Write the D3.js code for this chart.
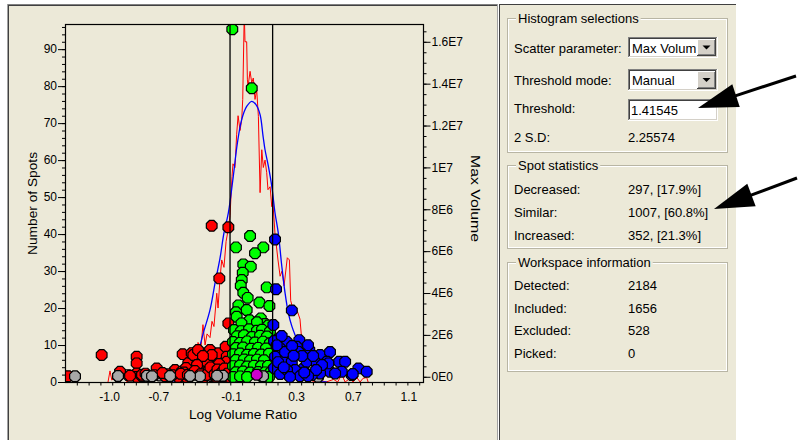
<!DOCTYPE html>
<html><head><meta charset="utf-8">
<script src="https://cdn.jsdelivr.net/npm/d3@7/dist/d3.min.js"></script>
<style>
html,body{margin:0;padding:0;background:#fff;}
svg{display:block;font-family:"Liberation Sans",Arial,sans-serif;}
</style></head><body>
<svg id="c" width="811" height="440"></svg>
<script>
// ---------------- DATA ----------------
const xTickAt = [-1.008, -0.660, -0.144, 0.317, 0.719, 1.113];
const xTickLabels = ["-1.0", "-0.7", "-0.1", "0.3", "0.7", "1.1"];
const countTicks = [0, 10, 20, 30, 40, 50, 60, 70, 80, 90];
const volumeTicks = [0, 2, 4, 6, 8, 10, 12, 14, 16]; // millions
const volumeTickLabels = ["0E0", "2E6", "4E6", "6E6", "8E6", "1E7", "1.2E7", "1.4E7", "1.6E7"];
const thresholds = [-0.151, 0.151];

// histogram of log volume ratio [x, number of spots]
const histogram = [[-1.016,0],[-1.002,3],[-0.989,0.5],[-0.960,1.5],[-0.931,0],[-0.903,2],[-0.882,0],[-0.846,1],[-0.818,0],[-0.790,2.5],[-0.761,0],[-0.733,1.5],[-0.704,0],[-0.676,4.5],[-0.662,0.5],[-0.634,1],[-0.605,0],[-0.577,2],[-0.555,4.7],[-0.534,0.5],[-0.506,2],[-0.477,1],[-0.449,5.6],[-0.428,3],[-0.399,6],[-0.378,10.7],[-0.357,9.3],[-0.343,15.5],[-0.328,10],[-0.314,13],[-0.293,12],[-0.279,16.4],[-0.265,15],[-0.245,24],[-0.236,20],[-0.222,28],[-0.210,33],[-0.194,31],[-0.179,38],[-0.165,41],[-0.151,45],[-0.137,55.6],[-0.130,59],[-0.116,58],[-0.104,67],[-0.094,72],[-0.080,68],[-0.068,71],[-0.061,76.4],[-0.050,100],[-0.045,92],[-0.033,92],[-0.028,81.7],[-0.023,80],[-0.009,84],[0.003,80.9],[0.014,82.2],[0.026,76.4],[0.038,79],[0.050,71.8],[0.062,51.2],[0.074,62.8],[0.085,58],[0.097,60],[0.109,56.6],[0.118,52],[0.133,52.8],[0.145,47.4],[0.152,49],[0.168,40],[0.189,33],[0.204,28.6],[0.218,30],[0.232,26],[0.255,33.6],[0.270,33],[0.279,22],[0.296,19.6],[0.322,19.6],[0.345,17],[0.357,11.5],[0.369,7],[0.393,4.3],[0.416,2.9],[0.438,0],[0.487,0.5],[0.530,0],[0.583,0.7],[0.612,0],[0.641,2],[0.665,0],[0.700,1],[0.721,0],[0.748,1.2],[0.771,0],[0.792,1],[0.818,1.2],[0.828,0]];

// fitted normal curve [x, number of spots]
const fitCurve = [[-0.553,0.2],[-0.458,1.6],[-0.387,7],[-0.340,13.3],[-0.293,19.5],[-0.257,26.8],[-0.222,33.5],[-0.194,40.3],[-0.163,45.7],[-0.128,55.6],[-0.099,64.6],[-0.068,71],[-0.033,74.5],[0.003,75.9],[0.033,75],[0.062,72.3],[0.083,66.5],[0.097,62.8],[0.121,58.3],[0.145,52.9],[0.168,45.7],[0.191,40.3],[0.216,31.3],[0.239,24.1],[0.262,18.7],[0.287,15.1],[0.322,11.5],[0.357,7.9],[0.393,4.3],[0.440,1.6],[0.487,0.2],[0.535,0]];

// spots [log volume ratio, max volume in millions]
const decreased = [[-1.300,0.03],[-1.061,1.04],[-0.931,0.24],[-0.813,0.96],[-0.813,0.64],[-0.813,0.16],[-0.813,-0.01],[-0.671,0.40],[-0.718,0.03],[-0.541,0.32],[-0.487,1.08],[-0.447,0.65],[-0.423,1.13],[-0.387,0.89],[-0.364,0.42],[-0.335,0.56],[-0.316,0.18],[-0.293,1.28],[-0.270,0.48],[-0.245,0.96],[-0.234,1.12],[-0.222,0.32],[-0.199,0.64],[-0.182,1.43],[-0.174,0.96],[-0.163,2.55],[-0.281,7.21],[-0.163,7.14],[-0.227,4.70],[-0.494,0.24],[-0.399,0.16],[-0.411,1.04],[-0.316,0.72],[-0.174,0.72],[-0.270,0.08],[-0.165,0.32],[-0.208,0.03],[-0.463,-0.01],[-0.612,0.03],[-0.775,0.03],[-0.378,1.28],[-0.435,0.03],[-0.335,-0.01],[-0.250,-0.01],[-0.281,1.04],[-0.343,0.99],[-0.520,-0.01],[-0.413,0.22],[-0.300,0.32],[-0.229,0.61],[-0.257,0.22],[-0.158,-0.01],[-0.385,0.56],[-0.463,0.42],[-0.775,0.10],[-0.591,0.12],[-0.477,0.20],[-0.392,0.10],[-0.279,0.15],[-0.194,0.10],
[-0.860,0.05],[-0.750,0.15],[-0.690,0.08],[-0.630,0.18],[-0.560,0.08],[-0.500,0.14],[-0.450,0.09],[-0.400,0.28],[-0.360,0.12],[-0.320,0.08],[-0.290,0.45],[-0.260,0.12],[-0.240,0.35],[-0.210,0.20],[-0.190,0.40],[-0.170,0.15]];

const similar = [[-0.135,16.60],[0.003,13.78],[-0.009,6.72],[-0.109,6.18],[0.085,6.18],[0.026,5.90],[-0.057,5.37],[-0.004,5.26],[-0.061,4.97],[-0.068,4.62],[-0.075,4.35],[-0.057,4.01],[-0.026,3.77],[0.109,4.27],[0.057,3.55],[0.128,3.38],[-0.092,3.41],[-0.033,3.19],[-0.109,3.08],[-0.104,2.87],[0.067,2.79],[0.014,2.42],[0.097,2.52],[-0.012,2.70],[0.040,2.60],[-0.070,2.55],[0.120,2.45],
[-0.123,2.23],[-0.073,2.18],[-0.016,2.27],[0.040,2.20],[0.076,2.25],[0.132,2.16],
[-0.101,1.94],[-0.052,1.98],[0.005,1.90],[0.062,1.96],[0.111,1.92],
[-0.130,1.66],[-0.080,1.62],[-0.030,1.69],[0.026,1.64],[0.083,1.68],[0.132,1.60],
[-0.109,1.37],[-0.059,1.40],[-0.002,1.34],[0.048,1.38],[0.104,1.35],
[-0.130,1.08],[-0.080,1.11],[-0.030,1.05],[0.019,1.09],[0.069,1.06],[0.125,1.10],
[-0.109,0.80],[-0.052,0.83],[-0.009,0.78],[0.040,0.82],[0.090,0.79],
[-0.130,0.51],[-0.080,0.54],[-0.030,0.49],[0.019,0.53],[0.069,0.50],[0.118,0.52],
[-0.109,0.22],[-0.059,0.25],[-0.009,0.20],[0.048,0.23],[0.097,0.21],[0.140,0.24],
[-0.130,-0.01],[-0.080,0.02],[-0.030,-0.01],[0.076,0.01],[0.125,-0.01]];

const increased = [[0.168,6.56],[0.175,4.18],[0.287,3.17],[0.156,2.47],[0.199,1.83],[0.251,1.67],[0.340,1.75],[0.322,1.43],[0.411,1.28],[0.487,1.04],[0.558,1.18],[0.622,0.72],[0.665,0.72],[0.759,0.40],[0.818,0.24],[0.712,0.08],[0.641,0.24],[0.558,0.24],[0.487,0.16],[0.428,0.08],[0.369,0.40],[0.333,1.19],[0.262,1.12],[0.204,1.36],[0.168,0.96],[0.227,0.72],[0.287,0.72],[0.310,0.32],[0.393,0.72],[0.464,0.64],[0.535,0.72],[0.594,0.16],[0.546,0.64],[0.161,1.71],[0.161,0.42],[0.204,0.13],[0.253,0.32],[0.360,0.99],[0.438,0.99],[0.402,1.51],[0.239,1.18],[0.289,1.47],[0.345,0.03],[0.501,0.56],[0.189,0.70],[0.719,0.13],[0.459,0.32],[0.402,0.03],[0.274,-0.01],[0.215,1.95],[0.180,1.50],[0.300,1.00],[0.230,0.45],[0.375,0.20]];

const excluded = [[-1.250,0.02],[-0.874,0.08],[-0.740,0.05],[-0.647,0.06],[-0.576,0.04],[-0.484,0.05],[-0.364,0.02],[-0.281,0.03],[-0.201,0.05],[-0.059,0.01],[0.083,0.03],[0.473,0.00],[-0.945,0.04],[-0.804,0.05],[-0.704,0.03],[-0.520,0.06],[-0.435,0.04],[-0.328,0.03],[-0.243,0.05],[-0.158,0.02]];

const picked = [[0.038,0.10]];

const groupColors = {decreased:"#ff0000", similar:"#00ff00", increased:"#0000ff", excluded:"#a8a8a8", picked:"#cc00cc"};

// panel text
const histogramSelections = [["Scatter parameter:", "Max Volume"], ["Threshold mode:", "Manual"], ["Threshold:", "1.41545"], ["2 S.D:", "2.25574"]];
const spotStatistics = [["Decreased:", "297, [17.9%]"], ["Similar:", "1007, [60.8%]"], ["Increased:", "352, [21.3%]"]];
const workspaceInfo = [["Detected:", "2184"], ["Included:", "1656"], ["Excluded:", "528"], ["Picked:", "0"]];

// ---------------- LAYOUT ----------------
const W = 811, H = 440, beige = "#ECE9D8";
const P = {l: 65, r: 423, t: 24, b: 382};
const svg = d3.select("#c");

svg.append("rect").attr("width", W).attr("height", H).attr("fill", "#fff");
svg.append("rect").attr("x", 7).attr("y", 4).attr("width", 491).attr("height", 436).attr("fill", beige);
svg.append("rect").attr("x", 499).attr("y", 4).attr("width", 237).attr("height", 436).attr("fill", beige);
function ln(x1, y1, x2, y2, c, w) {
  return svg.append("line").attr("x1", x1).attr("y1", y1).attr("x2", x2).attr("y2", y2).attr("stroke", c).attr("stroke-width", w || 1);
}
ln(7, 4.5, 498, 4.5, "#808080");
ln(8, 5.5, 497, 5.5, "#404040");
ln(7.5, 4, 7.5, 440, "#a0a0a0");
ln(8.5, 5, 8.5, 440, "#404040");
ln(497.5, 4, 497.5, 440, "#a0a0a0");
ln(499.5, 4, 499.5, 440, "#404040");
ln(499, 4.5, 736, 4.5, "#404040");

// ---------------- CHART ----------------
const x = d3.scaleLinear().domain([-1.321, 1.217]).range([P.l, P.r]);
const yCount = d3.scaleLinear().domain([0, 96.8]).range([P.b, P.t]);
const yVol = d3.scaleLinear().domain([-0.25, 16.85]).range([P.b, P.t]);

svg.append("defs").append("clipPath").attr("id", "plotclip")
  .append("rect").attr("x", P.l).attr("y", P.t).attr("width", P.r - P.l).attr("height", P.b - P.t);

const plot = svg.append("g").attr("clip-path", "url(#plotclip)");

// histogram line and fit
plot.append("path").datum(histogram)
  .attr("d", d3.line().x(d => x(d[0])).y(d => yCount(d[1])))
  .attr("fill", "none").attr("stroke", "#ff0000").attr("stroke-width", 1);
plot.append("path").datum(fitCurve)
  .attr("d", d3.line().curve(d3.curveCatmullRom).x(d => x(d[0])).y(d => yCount(d[1])))
  .attr("fill", "none").attr("stroke", "#0000ff").attr("stroke-width", 1.3);

// markers (octagons)
const R = 5.8;
const oct = d3.range(8).map(i => {
  const a = Math.PI / 8 + i * Math.PI / 4;
  return [R * Math.cos(a), R * Math.sin(a)];
});
const octPath = "M" + oct.map(p => p[0].toFixed(2) + "," + p[1].toFixed(2)).join("L") + "Z";
function drawSpots(data, color) {
  plot.append("g").selectAll("path").data(data).join("path")
    .attr("d", octPath)
    .attr("transform", d => `translate(${x(d[0])},${yVol(d[1])})`)
    .attr("fill", color).attr("stroke", "#000").attr("stroke-width", 1.2);
}
drawSpots(excluded, groupColors.excluded);
drawSpots(decreased, groupColors.decreased);
drawSpots(similar, groupColors.similar);
drawSpots(increased, groupColors.increased);
drawSpots(excluded.filter((d, i) => i % 2 === 0), groupColors.excluded);
drawSpots(picked, groupColors.picked);

// threshold lines
plot.selectAll("line.thr").data(thresholds).join("line")
  .attr("x1", d => x(d)).attr("x2", d => x(d)).attr("y1", P.t).attr("y2", P.b)
  .attr("stroke", "#000").attr("stroke-width", 1.3);

// frame
svg.append("rect").attr("x", P.l + 0.5).attr("y", P.t + 0.5).attr("width", P.r - P.l).attr("height", P.b - P.t)
  .attr("fill", "none").attr("stroke", "#000").attr("stroke-width", 1.2);

// axes
function styleAxis(g) {
  g.select(".domain").remove();
  g.selectAll("line").attr("stroke", "#000");
  g.selectAll("text").attr("font-size", 12).attr("fill", "#000").attr("font-family", "'Liberation Sans', Arial, sans-serif");
}
svg.append("g").attr("transform", `translate(${P.l},0)`)
  .call(d3.axisLeft(yCount).tickValues(d3.range(0, 97, 2)).tickSize(3).tickFormat("")).call(styleAxis);
svg.append("g").attr("transform", `translate(${P.l},0)`)
  .call(d3.axisLeft(yCount).tickValues(countTicks).tickSize(7).tickPadding(1)).call(styleAxis);

svg.append("g").attr("transform", `translate(${P.r + 0.5},0)`)
  .call(d3.axisRight(yVol).tickValues(d3.range(-0, 16.9, 0.5)).tickSize(3).tickFormat("")).call(styleAxis);
svg.append("g").attr("transform", `translate(${P.r + 0.5},0)`)
  .call(d3.axisRight(yVol).tickValues(volumeTicks).tickFormat((d, i) => volumeTickLabels[i]).tickSize(7).tickPadding(1)).call(styleAxis);

svg.append("g").attr("transform", `translate(0,${P.b + 0.5})`)
  .call(d3.axisBottom(x).tickValues(d3.range(-1.321 + 0.0837, 1.217, 0.0837)).tickSize(3).tickFormat("")).call(styleAxis);
svg.append("g").attr("transform", `translate(0,${P.b + 0.5})`)
  .call(d3.axisBottom(x).tickValues(xTickAt).tickFormat((d, i) => xTickLabels[i]).tickSize(0).tickPadding(10)).call(styleAxis);

// axis titles
svg.append("text").attr("x", 243).attr("y", 414).attr("dy", "0.35em").attr("text-anchor", "middle")
  .attr("font-size", 13.5).attr("textLength", 108).attr("lengthAdjust", "spacingAndGlyphs").text("Log Volume Ratio");
svg.append("text").attr("transform", "translate(32,203.5) rotate(-90)").attr("dy", "0.35em").attr("text-anchor", "middle")
  .attr("font-size", 13.5).attr("textLength", 103).attr("lengthAdjust", "spacingAndGlyphs").text("Number of Spots");
svg.append("text").attr("transform", "translate(476,198.5) rotate(90)").attr("dy", "0.35em").attr("text-anchor", "middle")
  .attr("font-size", 13.5).attr("textLength", 87).attr("lengthAdjust", "spacingAndGlyphs").text("Max Volume");

// ---------------- RIGHT PANEL ----------------
function txt(xx, yy, s, g) {
  return (g || svg).append("text").attr("x", xx).attr("y", yy).attr("dy", "0.35em")
    .attr("font-size", 13).attr("fill", "#000").text(s);
}
function groupBox(x0, y0, w, h, title) {
  const g = svg.append("g");
  g.append("rect").attr("x", x0 + 0.5).attr("y", y0 + 0.5).attr("width", w).attr("height", h)
    .attr("fill", "none").attr("stroke", "#b8b5a4");
  g.append("rect").attr("x", x0 + 1.5).attr("y", y0 + 1.5).attr("width", w - 2).attr("height", h - 2)
    .attr("fill", "none").attr("stroke", "#ffffff");
  const bg = g.append("rect");
  const t = txt(x0 + 11, y0, title, g);
  const tw = t.node().getComputedTextLength();
  bg.attr("x", x0 + 9).attr("y", y0 - 6).attr("width", tw + 4).attr("height", 12).attr("fill", beige);
}
function sunken(x0, y0, w, h) {
  svg.append("rect").attr("x", x0).attr("y", y0).attr("width", w).attr("height", h).attr("fill", "#fff");
  ln(x0, y0 + 0.5, x0 + w, y0 + 0.5, "#808080");
  ln(x0 + 0.5, y0, x0 + 0.5, y0 + h, "#808080");
  ln(x0 + 1, y0 + 1.5, x0 + w - 1, y0 + 1.5, "#404040");
  ln(x0 + 1.5, y0 + 1, x0 + 1.5, y0 + h - 1, "#404040");
  ln(x0, y0 + h - 0.5, x0 + w, y0 + h - 0.5, "#ffffff");
  ln(x0 + w - 0.5, y0, x0 + w - 0.5, y0 + h, "#ffffff");
  ln(x0 + 1, y0 + h - 1.5, x0 + w - 1, y0 + h - 1.5, "#d4d0c8");
  ln(x0 + w - 1.5, y0 + 1, x0 + w - 1.5, y0 + h - 1, "#d4d0c8");
}
function dropButton(x0, y0, w, h) {
  svg.append("rect").attr("x", x0).attr("y", y0).attr("width", w).attr("height", h).attr("fill", "#d4d0c8");
  ln(x0, y0 + 0.5, x0 + w, y0 + 0.5, "#ffffff");
  ln(x0 + 0.5, y0, x0 + 0.5, y0 + h, "#ffffff");
  ln(x0, y0 + h - 0.5, x0 + w, y0 + h - 0.5, "#404040");
  ln(x0 + w - 0.5, y0, x0 + w - 0.5, y0 + h, "#404040");
  ln(x0 + 1, y0 + h - 1.5, x0 + w - 1, y0 + h - 1.5, "#808080");
  ln(x0 + w - 1.5, y0 + 1, x0 + w - 1.5, y0 + h - 1, "#808080");
  const cx = x0 + w / 2, cy = y0 + h / 2;
  svg.append("path").attr("d", `M${cx - 4},${cy - 2}L${cx + 4},${cy - 2}L${cx},${cy + 2}Z`).attr("fill", "#000");
}

groupBox(507, 18, 220, 134, "Histogram selections");
const selY = [48, 80, 108, 137];
histogramSelections.forEach((r, i) => txt(514, selY[i], r[0]));
sunken(628, 37, 90, 21);
svg.append("clipPath").attr("id", "dd1").append("rect").attr("x", 630).attr("y", 37).attr("width", 66).attr("height", 21);
txt(632, 48, histogramSelections[0][1]).attr("clip-path", "url(#dd1)");
dropButton(697, 39, 19, 17);
sunken(628, 69, 90, 22);
txt(632, 80, histogramSelections[1][1]);
dropButton(697, 71, 19, 18);
sunken(628, 99, 90, 22);
txt(631, 110, histogramSelections[2][1]);
txt(628, 137, histogramSelections[3][1]);

groupBox(507, 165, 220, 83, "Spot statistics");
const statY = [189, 212, 235];
spotStatistics.forEach((r, i) => { txt(514, statY[i], r[0]); txt(628, statY[i], r[1]); });

groupBox(507, 262, 220, 109, "Workspace information");
const wsY = [285, 308, 330, 353];
workspaceInfo.forEach((r, i) => { txt(514, wsY[i], r[0]); txt(628, wsY[i], r[1]); });

// ---------------- ARROWS ----------------
const arrows = [{tail: [796, 76], tip: [698, 108]}, {tail: [797, 178], tip: [714, 209]}];
arrows.forEach(a => {
  const dx = a.tip[0] - a.tail[0], dy = a.tip[1] - a.tail[1];
  const L = Math.hypot(dx, dy), ux = dx / L, uy = dy / L;
  const hl = 40, hw = 12;
  const bx = a.tip[0] - ux * hl, by = a.tip[1] - uy * hl;
  svg.append("line").attr("x1", a.tail[0]).attr("y1", a.tail[1]).attr("x2", bx + ux * 4).attr("y2", by + uy * 4)
    .attr("stroke", "#000").attr("stroke-width", 3);
  svg.append("path").attr("d", `M${a.tip[0]},${a.tip[1]}L${bx - uy * hw},${by + ux * hw}L${bx + uy * hw},${by - ux * hw}Z`)
    .attr("fill", "#000");
});
</script>
</body></html>
